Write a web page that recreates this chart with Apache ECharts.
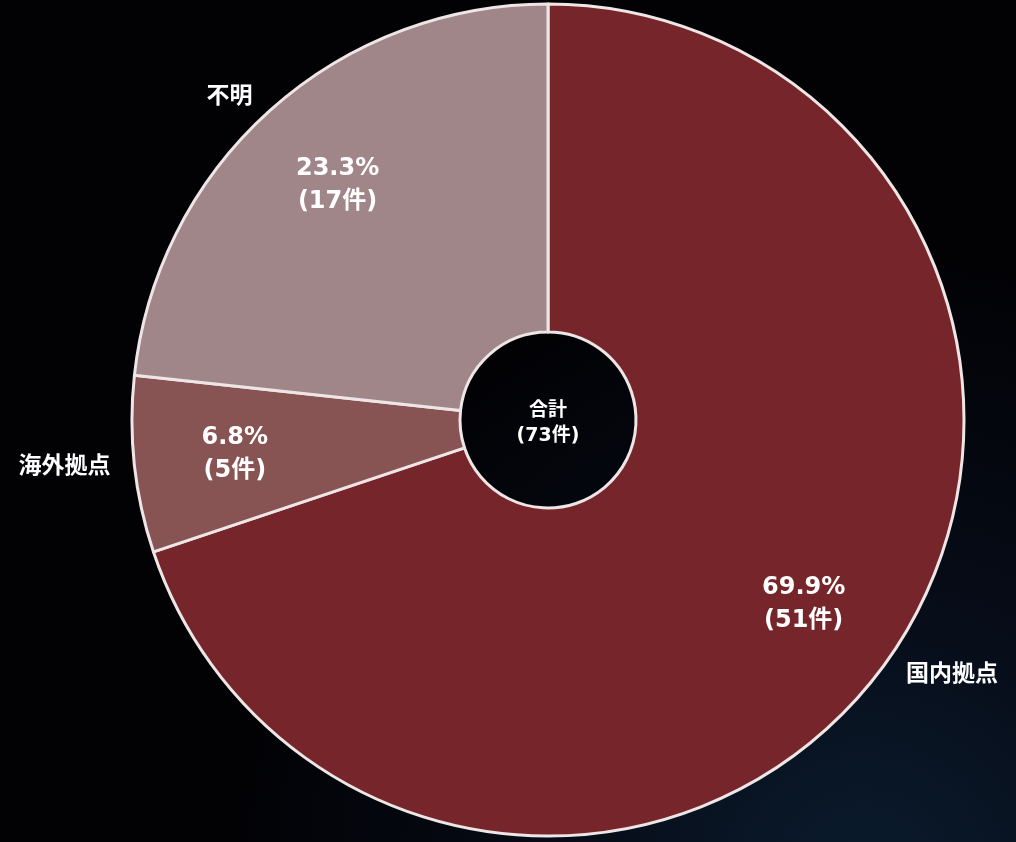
<!DOCTYPE html>
<html>
<head>
<meta charset="utf-8">
<style>
html,body{margin:0;padding:0;background:#000;}
#chart{width:1016px;height:842px;}
</style>
<script src="https://cdn.jsdelivr.net/npm/echarts@6/dist/echarts.min.js"></script>
</head>
<body>
<div id="chart"></div>
<script>
// Data
const categories = ['国内拠点', '海外拠点', '不明'];
const counts = [51, 5, 17];
const colors = ['#76262a', '#875353', '#a08688'];
const centerTitle = '合計';
const unit = '件';

const total = counts.reduce((a, b) => a + b, 0);
const pieData = categories.map((name, i) => ({ name: name, value: counts[i], itemStyle: { color: colors[i] } }));
const labelData = categories.map((name, i) => ({ name: name, value: counts[i] }));

const FONT = '"Noto Sans", "Noto Sans CJK JP", sans-serif';
const NUMFONT = '"DejaVu Sans", "Noto Sans CJK JP", sans-serif';
const chart = echarts.init(document.getElementById('chart'), null, { renderer: 'canvas' });
chart.setOption({
  animation: false,
  backgroundColor: {
    type: 'radial', x: 0.85, y: 1.05, r: 0.75,
    colorStops: [
      { offset: 0, color: '#0b1c2e' },
      { offset: 0.5, color: '#060b16' },
      { offset: 1, color: '#020205' }
    ]
  },
  graphic: [{
    type: 'text',
    x: 548, y: 424,
    style: {
      text: centerTitle + '\n(' + total + unit + ')',
      fill: '#ffffff',
      fontSize: 19,
      fontWeight: 'bold',
      fontFamily: NUMFONT,
      align: 'center',
      verticalAlign: 'middle',
      lineHeight: 25
    }
  }],
  series: [
    {
      type: 'pie',
      center: [548, 420],
      radius: [88, 416],
      startAngle: 90,
      clockwise: true,
      avoidLabelOverlap: false,
      percentPrecision: 1,
      silent: true,
      itemStyle: { borderColor: '#eee6e6', borderWidth: 3 },
      label: {
        show: true,
        position: 'outside',
        formatter: '{b}',
        color: '#ffffff',
        fontSize: 23,
        fontWeight: 'bold',
        fontFamily: FONT
      },
      labelLine: { show: false, length: 19, length2: 0 },
      data: pieData
    },
    {
      type: 'pie',
      center: [548, 420],
      radius: [208, 416],
      startAngle: 90,
      clockwise: true,
      avoidLabelOverlap: false,
      percentPrecision: 1,
      silent: true,
      itemStyle: { color: 'rgba(0,0,0,0)', borderWidth: 0 },
      label: {
        show: true,
        position: 'inside',
        formatter: '{d}%\n({c}' + unit + ')',
        color: '#ffffff',
        fontSize: 24,
        fontWeight: 'bold',
        lineHeight: 33,
        fontFamily: NUMFONT
      },
      labelLine: { show: false },
      data: labelData
    }
  ]
});
</script>
</body>
</html>
